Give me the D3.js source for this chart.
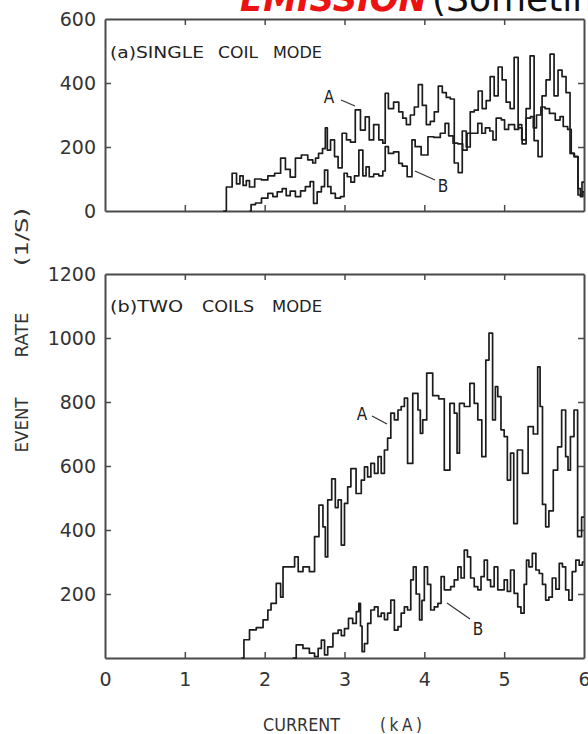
<!DOCTYPE html>
<html><head><meta charset="utf-8">
<script src="https://cdn.jsdelivr.net/npm/d3@7"></script>
<style>body{margin:0;background:#fff}svg{display:block}</style>
</head><body>
<svg id="c" width="588" height="734"></svg>
<script>
// ---- tick labels / categories ----
const xTicks = [0, 1, 2, 3, 4, 5, 6];
const yTicksTop = [0, 200, 400, 600];
const yTicksBot = [200, 400, 600, 800, 1000, 1200];

// ---- (a) single coil mode ----
const topA_kA = [1.48,1.56,1.625,1.67,1.71,1.75,1.79,1.83,1.92,2.00,2.08,2.17,2.23,2.29,2.35,2.42,2.50,2.58,2.625,2.65,2.70,2.75,2.77,2.80,2.85,2.90,2.94,3.00,3.05,3.10,3.17,3.23,3.29,3.33,3.40,3.46,3.50,3.52,3.58,3.65,3.71,3.75,3.80,3.85,3.90,3.95,4.00,4.05,4.10,4.15,4.20,4.25,4.30,4.35,4.40,4.45,4.50,4.55,4.60,4.65,4.70,4.75,4.80,4.85,4.90,4.95,5.00,5.05,5.10,5.15,5.20,5.25,5.30,5.35,5.40,5.45,5.50,5.55,5.60,5.65,5.70,5.75,5.80,5.85,5.90,5.95,6.00];
const topA_rate = [0,75,118,85,110,80,95,75,100,97,110,118,165,130,106,165,175,160,150,165,180,195,260,190,222,170,135,243,222,215,316,253,294,222,270,222,212,368,320,340,310,290,270,300,325,395,330,270,280,310,390,370,355,350,150,120,250,200,310,315,375,320,345,420,360,450,410,340,320,480,260,210,320,485,220,170,360,410,490,360,440,420,370,180,170,50,90];

const topB_kA = [1.81,1.85,1.92,2.00,2.08,2.125,2.19,2.25,2.29,2.35,2.42,2.48,2.54,2.60,2.625,2.69,2.73,2.77,2.81,2.85,2.92,2.98,3.01,3.06,3.10,3.15,3.21,3.25,3.29,3.33,3.40,3.46,3.50,3.52,3.58,3.65,3.71,3.74,3.83,3.86,3.91,4.01,4.08,4.16,4.24,4.28,4.33,4.39,4.45,4.51,4.56,4.64,4.70,4.74,4.79,4.85,4.87,4.93,5.00,5.01,5.10,5.16,5.20,5.24,5.31,5.35,5.38,5.43,5.49,5.535,5.60,5.68,5.72,5.76,5.83,5.85,5.91,5.94,5.97,6.00];
const topB_rate = [0,20,25,40,55,45,60,70,48,62,45,63,76,92,24,60,76,128,76,55,40,45,118,107,90,110,190,110,138,107,115,110,125,201,180,185,149,140,107,222,201,175,232,230,243,274,235,212,210,190,243,243,274,243,260,250,222,290,285,255,270,255,270,222,290,295,260,300,325,320,305,284,295,264,255,180,170,70,45,60];

// ---- (b) two coils mode ----
const botA_kA = [1.71,1.77,1.85,1.94,2.02,2.06,2.10,2.19,2.21,2.25,2.35,2.40,2.44,2.52,2.60,2.65,2.71,2.75,2.77,2.81,2.87,2.90,2.94,2.98,3.02,3.06,3.10,3.19,3.23,3.27,3.31,3.35,3.40,3.44,3.48,3.52,3.56,3.60,3.65,3.69,3.73,3.77,3.81,3.90,3.94,3.96,4.00,4.06,4.15,4.21,4.29,4.35,4.40,4.42,4.46,4.54,4.60,4.65,4.69,4.75,4.79,4.83,4.88,4.90,4.94,4.98,5.02,5.06,5.10,5.14,5.19,5.27,5.33,5.40,5.44,5.46,5.50,5.54,5.58,5.65,5.69,5.75,5.79,5.81,5.85,5.90,5.94,6.00];
const botA_rate = [0,57,88,95,119,150,171,233,190,285,285,316,270,285,270,379,478,410,316,494,560,470,494,353,483,535,592,514,556,597,566,608,577,629,577,650,687,765,744,775,786,812,608,827,775,702,744,890,820,810,587,796,765,640,796,786,858,796,744,629,931,1015,744,848,817,713,692,556,640,420,650,577,723,700,910,786,480,410,460,587,660,775,629,587,692,775,379,440];

const botB_kA = [2.35,2.44,2.52,2.60,2.65,2.69,2.73,2.77,2.81,2.90,2.94,2.98,3.02,3.08,3.125,3.17,3.19,3.21,3.23,3.27,3.31,3.35,3.40,3.44,3.48,3.52,3.56,3.60,3.65,3.69,3.73,3.77,3.81,3.85,3.875,3.92,3.96,3.98,4.02,4.06,4.10,4.15,4.19,4.23,4.27,4.31,4.35,4.40,4.44,4.48,4.52,4.56,4.60,4.65,4.69,4.73,4.77,4.81,4.85,4.90,4.94,4.98,5.02,5.06,5.10,5.15,5.19,5.23,5.27,5.29,5.33,5.375,5.42,5.46,5.50,5.54,5.58,5.625,5.67,5.71,5.75,5.79,5.83,5.875,5.92,5.96,6.00];
const botB_rate = [0,41,30,15,4,30,56,10,35,77,87,70,92,124,108,145,171,100,20,45,108,150,160,130,140,120,140,181,87,98,140,160,150,244,285,200,119,180,285,230,150,160,171,254,213,213,223,244,285,250,337,316,250,223,213,254,306,244,223,285,213,213,244,208,275,202,160,140,230,306,285,327,275,264,230,181,190,250,215,296,285,213,181,270,306,290,300];

// ---- drawing ----
const svg = d3.select('#c');
const FONT = "'DejaVu Sans', sans-serif";
const FONTC = "'DejaVu Sans Condensed','DejaVu Sans', sans-serif";
const FRAME = '#4a4a4a', TXT = '#333';

const x = d3.scaleLinear().domain([0, 6]).range([105, 584]);
const yT = d3.scaleLinear().domain([0, 600]).range([211, 19]);
const yB = d3.scaleLinear().domain([0, 1200]).range([658, 274]);

// title fragment at the very top (cut off by the page edge, as in the source)
svg.append('text').attr('x', 240).attr('y', 11).attr('font-family', FONT)
  .attr('font-size', 36).attr('font-style', 'italic').attr('font-weight', 'bold')
  .attr('fill', '#ee1111').attr('textLength', 187).attr('lengthAdjust', 'spacingAndGlyphs')
  .text('EMISSION');
svg.append('text').attr('x', 432).attr('y', 11).attr('font-family', FONT)
  .attr('font-size', 36).attr('fill', '#111').text('(Sometimes');

function panel(y, yTicks, inner) {
  const g = svg.append('g');
  const [y0, y1] = y.range();
  g.append('g').attr('transform', `translate(0,${y0})`)
    .call(d3.axisBottom(x).tickValues([1,2,3,4,5]).tickSize(-6).tickSizeOuter(0).tickFormat(''));
  g.append('g').attr('transform', `translate(0,${y1})`)
    .call(d3.axisTop(x).tickValues([1,2,3,4,5]).tickSize(-6).tickSizeOuter(0).tickFormat(''));
  g.append('g').attr('transform', `translate(${x(0)},0)`)
    .call(d3.axisLeft(y).tickValues(inner).tickSize(-6).tickSizeOuter(0).tickFormat(''));
  g.append('g').attr('transform', `translate(${x(6)},0)`)
    .call(d3.axisRight(y).tickValues(inner).tickSize(-6).tickSizeOuter(0).tickFormat(''));
  const lab = g.append('g').attr('transform', `translate(${x(0)},0)`)
    .call(d3.axisLeft(y).tickValues(yTicks).tickSize(0).tickPadding(9).tickFormat(d3.format('d')));
  lab.select('.domain').remove();
  g.selectAll('.domain').attr('stroke', FRAME).attr('stroke-width', 2);
  g.selectAll('.tick line').attr('stroke', FRAME).attr('stroke-width', 1.5);
  g.selectAll('.tick text').attr('font-family', FONT).attr('font-size', 19).attr('fill', TXT);
  return g;
}

panel(yT, yTicksTop, [200, 400]);
panel(yB, yTicksBot, [200, 400, 600, 800, 1000]);

const xl = svg.append('g').attr('transform', `translate(0,${yB(0)})`)
  .call(d3.axisBottom(x).tickValues(xTicks).tickSize(0).tickPadding(15).tickFormat(d3.format('d')));
xl.select('.domain').remove();
xl.selectAll('.tick text').attr('font-family', FONT).attr('font-size', 19).attr('fill', TXT);

function curve(kA, rate, y) {
  const pts = kA.map((k, i) => [k, rate[i]]);
  svg.append('path').datum(pts)
    .attr('d', d3.line().curve(d3.curveStep).x(d => x(d[0])).y(d => y(d[1])))
    .attr('fill', 'none').attr('stroke', '#1c1c1c').attr('stroke-width', 1.7)
    .attr('stroke-linejoin', 'round');
}
curve(topA_kA, topA_rate, yT);
curve(topB_kA, topB_rate, yT);
curve(botA_kA, botA_rate, yB);
curve(botB_kA, botB_rate, yB);

function word(t, x0, w, yb) {
  svg.append('text').attr('x', x0).attr('y', yb).attr('font-family', FONTC)
    .attr('font-size', 16).attr('fill', '#222').attr('textLength', w)
    .attr('lengthAdjust', 'spacingAndGlyphs').text(t);
}
word('(a)SINGLE', 110, 94, 58); word('COIL', 218, 40, 58); word('MODE', 273, 49, 58);
word('(b)TWO', 110, 73, 312); word('COILS', 202, 52, 312); word('MODE', 272, 50, 312);

function note(t, tx, ty, x1, y1, x2, y2) {
  svg.append('text').attr('x', tx).attr('y', ty).attr('text-anchor', 'middle')
    .attr('font-family', FONTC).attr('font-size', 17).attr('fill', '#222').text(t);
  svg.append('line').attr('x1', x1).attr('y1', y1).attr('x2', x2).attr('y2', y2)
    .attr('stroke', '#333').attr('stroke-width', 1.2);
}
note('A', 329, 103, 341, 100, 355, 106);
note('B', 443, 192, 415, 171, 435, 180);
note('A', 362, 420, 372, 416, 387, 424);
note('B', 478, 635, 447, 603, 470, 619);

function vtitle(t, cy, len) {
  svg.append('text').attr('transform', `translate(28,${cy}) rotate(-90)`)
    .attr('text-anchor', 'middle').attr('font-family', FONTC).attr('font-size', 17)
    .attr('fill', '#333').attr('textLength', len).attr('lengthAdjust', 'spacingAndGlyphs').text(t);
}
vtitle('EVENT', 425, 55);
vtitle('RATE', 335, 45);
vtitle('(1/S)', 237, 58);

svg.append('text').attr('x', 263).attr('y', 731).attr('font-family', FONTC)
  .attr('font-size', 17).attr('fill', '#333').attr('textLength', 77)
  .attr('lengthAdjust', 'spacingAndGlyphs').text('CURRENT');
svg.append('text').attr('x', 380).attr('y', 731).attr('font-family', FONTC)
  .attr('font-size', 17).attr('fill', '#333').attr('textLength', 42)
  .attr('lengthAdjust', 'spacing').text('(kA)');
</script>
</body></html>
